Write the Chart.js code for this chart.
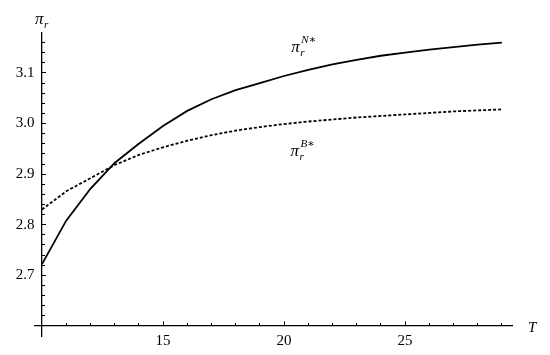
<!DOCTYPE html>
<html>
<head>
<meta charset="utf-8">
<script src="https://cdn.jsdelivr.net/npm/chart.js@4/dist/chart.umd.min.js"></script>
<style>
  html, body { margin: 0; padding: 0; background: #fff; }
  canvas { display: block; }
</style>
</head>
<body>
<canvas id="c" width="550" height="355"></canvas>
<script>
// ---- data ----
const T = [10, 11, 12, 13, 14, 15, 16, 17, 18, 19, 20, 21, 22, 23, 24, 25, 26, 27, 28, 29];
const piN = [2.722, 2.808, 2.871, 2.922, 2.960, 2.995, 3.025, 3.048, 3.066, 3.080, 3.094, 3.106, 3.117, 3.126, 3.134, 3.140, 3.146, 3.151, 3.156, 3.160];
const piB = [2.830, 2.866, 2.892, 2.918, 2.938, 2.953, 2.966, 2.977, 2.986, 2.993, 2.999, 3.004, 3.008, 3.012, 3.015, 3.018, 3.021, 3.024, 3.026, 3.028];
const xMajorTicks = [15, 20, 25];
const xMinorTicks = [11, 12, 13, 14, 15, 16, 17, 18, 19, 20, 21, 22, 23, 24, 25, 26, 27, 28, 29];
const yMajorTicks = [2.7, 2.8, 2.9, 3.0, 3.1];
const yMinorTicks = [2.62, 2.64, 2.66, 2.68, 2.70, 2.72, 2.74, 2.76, 2.78, 2.80, 2.82, 2.84, 2.86, 2.88, 2.90, 2.92, 2.94, 2.96, 2.98, 3.00, 3.02, 3.04, 3.06, 3.08, 3.10, 3.12, 3.14, 3.16];

const X_MIN = 9.711, X_MAX = 29.42, Y_MIN = 2.58, Y_MAX = 3.179;
const X_ORIGIN = 10, Y_ORIGIN = 2.6;

const SERIF = "'Liberation Serif', 'DejaVu Serif', serif";

function setTicks(arr) {
  return function (scale) { scale.ticks = arr.map(v => ({ value: v })); };
}

function drawSym(ctx, x, y, base, sub, sup, size) {
  ctx.save();
  ctx.fillStyle = '#000';
  ctx.textBaseline = 'alphabetic';
  ctx.textAlign = 'left';
  ctx.font = 'italic ' + size + 'px ' + SERIF;
  ctx.fillText(base, x, y);
  const w = ctx.measureText(base).width;
  const small = Math.round(size * 0.66);
  ctx.font = 'italic ' + small + 'px ' + SERIF;
  if (sub) ctx.fillText(sub, x + w + 0.5, y + 3.5);
  if (sup) ctx.fillText(sup, x + w + 1.5, y - 9);
  ctx.restore();
}

const labelsPlugin = {
  id: 'labels',
  afterDraw(chart) {
    const ctx = chart.ctx;
    const xs = chart.scales.x, ys = chart.scales.y;
    const ox = xs.getPixelForValue(X_ORIGIN);
    const oy = ys.getPixelForValue(Y_ORIGIN);
    // axis labels
    drawSym(ctx, ox - 7, ys.top - 9, 'π', 'r', null, 17);
    ctx.save();
    ctx.fillStyle = '#000';
    ctx.font = 'italic 15px ' + SERIF;
    ctx.textBaseline = 'alphabetic';
    ctx.fillText('T', xs.right + 16, oy + 6);
    ctx.restore();
    // curve labels
    drawSym(ctx, xs.getPixelForValue(20.3), ys.getPixelForValue(3.141), 'π', 'r', 'N∗', 17);
    drawSym(ctx, xs.getPixelForValue(20.27), ys.getPixelForValue(2.935), 'π', 'r', 'B∗', 17);
  }
};

new Chart(document.getElementById('c'), {
  type: 'line',
  data: {
    datasets: [
      {
        label: 'πr N*',
        data: T.map((t, i) => ({ x: t, y: piN[i] })),
        borderColor: '#000',
        borderWidth: 1.8,
        pointRadius: 0,
        tension: 0,
        fill: false
      },
      {
        label: 'πr B*',
        data: T.map((t, i) => ({ x: t, y: piB[i] })),
        borderColor: '#000',
        borderWidth: 1.8,
        borderDash: [3, 2],
        pointRadius: 0,
        tension: 0,
        fill: false
      }
    ]
  },
  options: {
    responsive: false,
    animation: false,
    devicePixelRatio: 1,
    layout: { padding: { left: 0, right: 38, top: 33, bottom: 19 } },
    plugins: { legend: { display: false }, tooltip: { enabled: false } },
    scales: {
      x: {
        type: 'linear', min: X_MIN, max: X_MAX,
        position: { y: Y_ORIGIN },
        afterBuildTicks: setTicks(xMajorTicks),
        grid: { drawOnChartArea: false, tickLength: -5, tickColor: '#000', tickWidth: 1 },
        border: { display: true, color: '#000', width: 1.3 },
        ticks: { color: '#000', font: { family: SERIF, size: 15 }, padding: 11, maxRotation: 0, autoSkip: false }
      },
      x2: {
        type: 'linear', min: X_MIN, max: X_MAX, axis: 'x',
        position: { y: Y_ORIGIN },
        afterBuildTicks: setTicks(xMinorTicks),
        grid: { drawOnChartArea: false, tickLength: -3, tickColor: '#000', tickWidth: 1 },
        border: { display: false },
        ticks: { display: false, autoSkip: false }
      },
      y: {
        type: 'linear', min: Y_MIN, max: Y_MAX,
        position: { x: X_ORIGIN },
        afterBuildTicks: setTicks(yMajorTicks),
        grid: { drawOnChartArea: false, tickLength: -5, tickColor: '#000', tickWidth: 1 },
        border: { display: true, color: '#000', width: 1.3 },
        ticks: { display: false, autoSkip: false }
      },
      y2: {
        type: 'linear', min: Y_MIN, max: Y_MAX, axis: 'y',
        position: { x: X_ORIGIN },
        afterBuildTicks: setTicks(yMinorTicks),
        grid: { drawOnChartArea: false, tickLength: -3, tickColor: '#000', tickWidth: 1 },
        border: { display: false },
        ticks: { display: false, autoSkip: false }
      },
      yl: {
        type: 'linear', min: Y_MIN, max: Y_MAX, axis: 'y',
        position: 'left',
        afterBuildTicks: setTicks(yMajorTicks),
        afterFit(scale) { scale.width = 35; },
        grid: { display: false, drawTicks: false },
        border: { display: false },
        ticks: { color: '#000', font: { family: SERIF, size: 15 }, padding: 0.5, autoSkip: false,
                 callback: v => Number(v).toFixed(1) }
      }
    }
  },
  plugins: [labelsPlugin]
});
</script>
</body>
</html>
